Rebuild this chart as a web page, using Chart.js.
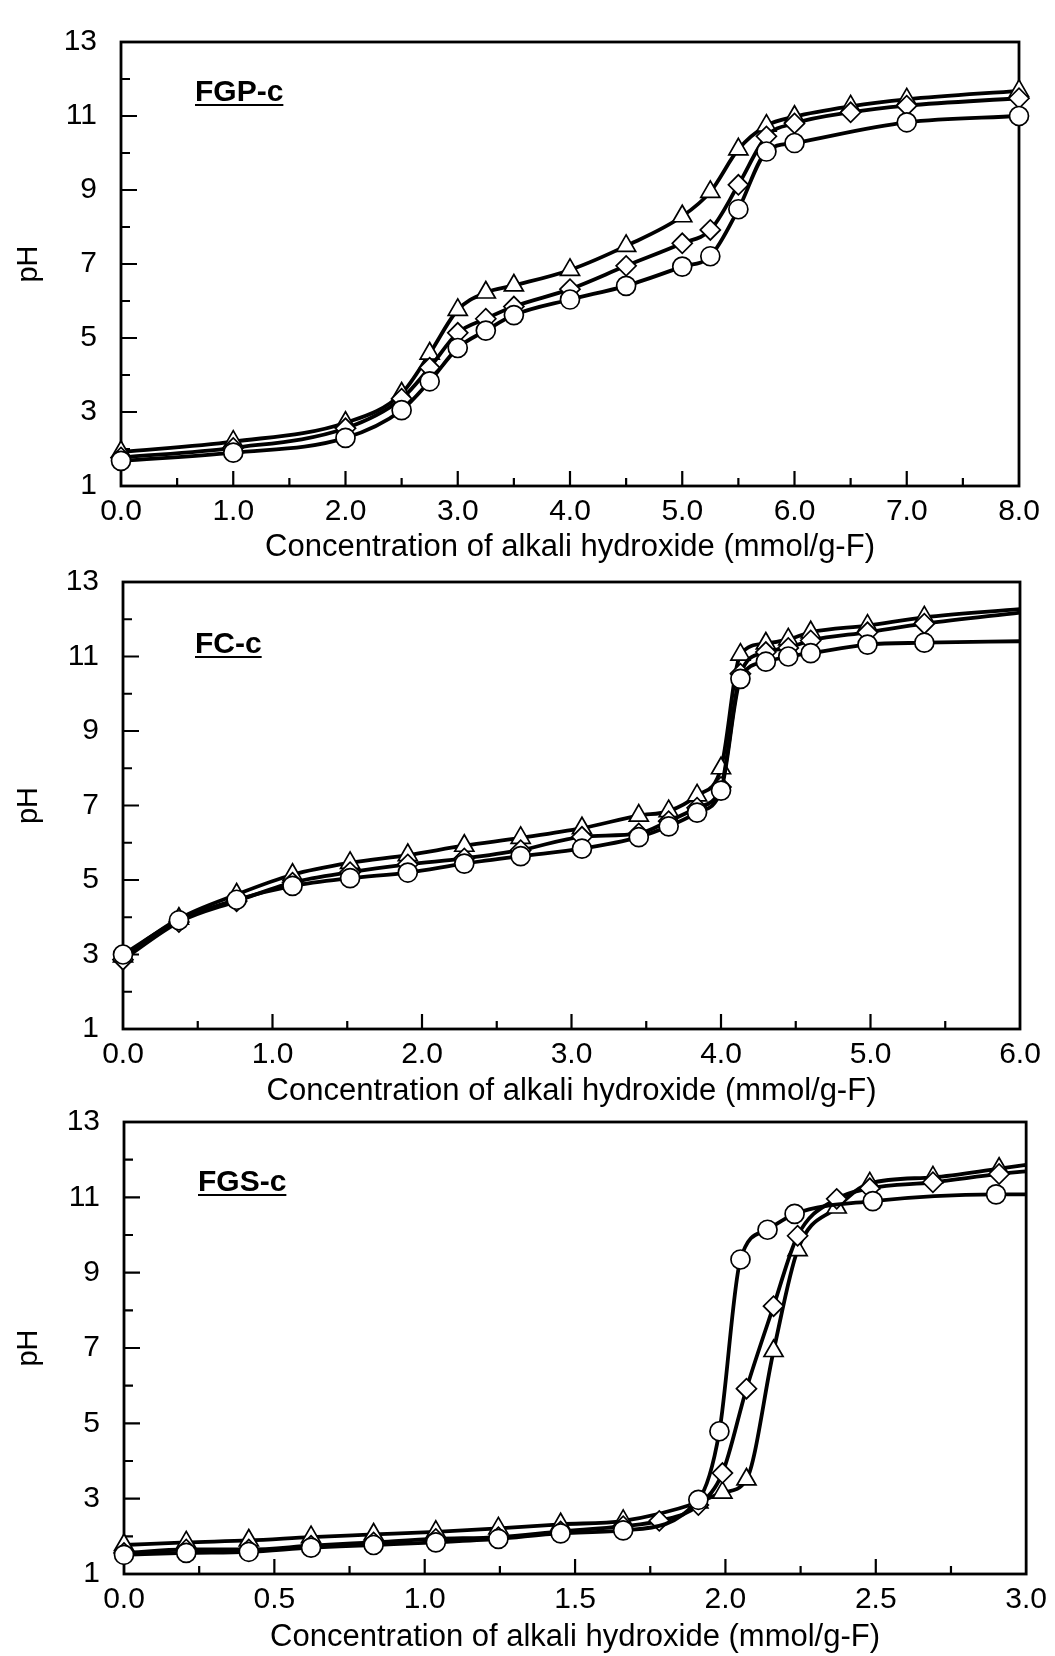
<!DOCTYPE html>
<html lang="en">

<head>
    <meta charset="UTF-8">
    <script src="https://cdn.jsdelivr.net/npm/chart.js"></script>
    <title>pH titration curves</title>
    <style>
        body {
            margin: 0;
            background: #fff;
            width: 1055px;
            height: 1656px;
            position: relative;
            overflow: hidden;
            font-family: "Liberation Sans", Arial, sans-serif;
        }

        canvas {
            position: absolute;
            left: 0;
        }

        .tag {
            position: absolute;
            font-weight: bold;
            font-size: 30px;
            line-height: 30px;
            text-decoration: underline;
            text-decoration-thickness: 2px;
            text-underline-offset: 3px;
        }
    </style>
</head>

<body>
    <canvas id="fgpChart" width="1055" height="576" style="top:0px"></canvas>
    <canvas id="fcChart" width="1055" height="580" style="top:540px"></canvas>
    <canvas id="fgsChart" width="1055" height="586" style="top:1080px"></canvas>
    <div class="tag" style="left:195px; top:76px">FGP-c</div>
    <div class="tag" style="left:195px; top:628px">FC-c</div>
    <div class="tag" style="left:198px; top:1166px">FGS-c</div>
    <script>
        // FGP-c
        const fgpX = [0, 1, 2, 2.5, 2.75, 3, 3.25, 3.5, 4, 4.5, 5, 5.25, 5.5, 5.75, 6, 6.5, 7, 8];
        const fgpCircleX = [0, 1, 2, 2.5, 2.75, 3, 3.25, 3.5, 4, 4.5, 5, 5.25, 5.5, 5.75, 6, 7, 8];
        const fgpCircle = [1.68, 1.9, 2.3, 3.05, 3.83, 4.73, 5.2, 5.62, 6.04, 6.41, 6.93, 7.21, 8.48, 10.04, 10.27, 10.83, 11.0];
        const fgpDiamond = [1.77, 2.03, 2.56, 3.36, 4.2, 5.14, 5.52, 5.85, 6.32, 6.95, 7.56, 7.92, 9.14, 10.45, 10.8, 11.1, 11.28, 11.48];
        const fgpTriangle = [1.92, 2.2, 2.71, 3.5, 4.58, 5.76, 6.23, 6.42, 6.84, 7.49, 8.29, 8.95, 10.1, 10.74, 10.98, 11.26, 11.45, 11.68];

        // FC-c
        const fcX = [0, 0.374, 0.76, 1.134, 1.519, 1.905, 2.283, 2.66, 3.07, 3.45, 3.65, 3.84, 4.0, 4.13, 4.3, 4.45, 4.6, 4.98, 5.36, 6.0];
        const fcCircle = [3.0, 3.92, 4.47, 4.84, 5.05, 5.2, 5.44, 5.64, 5.84, 6.15, 6.44, 6.81, 7.4, 10.4, 10.86, 11.0, 11.09, 11.32, 11.37, 11.41];
        const fcDiamond = [2.86, 3.87, 4.43, 4.93, 5.21, 5.42, 5.58, 5.8, 6.16, 6.25, 6.58, 6.94, 7.5, 10.54, 11.12, 11.23, 11.43, 11.65, 11.88, 12.18];
        const fcTriangle = [2.95, 3.96, 4.61, 5.14, 5.46, 5.67, 5.92, 6.13, 6.39, 6.73, 6.85, 7.27, 8.0, 11.05, 11.35, 11.46, 11.65, 11.83, 12.05, 12.27];

        // FGS-c
        const fgsCircleX = [0, 0.207, 0.415, 0.622, 0.83, 1.037, 1.245, 1.452, 1.66, 1.91, 1.98, 2.05, 2.14, 2.23, 2.49, 2.9, 3.0];
        const fgsCircle = [1.51, 1.56, 1.59, 1.7, 1.77, 1.84, 1.93, 2.08, 2.16, 2.97, 4.79, 9.35, 10.14, 10.56, 10.9, 11.08, 11.08];
        const fgsDiamondX = [0, 0.207, 0.415, 0.622, 0.83, 1.037, 1.245, 1.452, 1.66, 1.78, 1.91, 1.99, 2.07, 2.16, 2.24, 2.37, 2.48, 2.69, 2.91, 3.0];
        const fgsDiamond = [1.56, 1.65, 1.65, 1.75, 1.84, 1.93, 1.98, 2.13, 2.27, 2.41, 2.83, 3.68, 5.92, 8.11, 9.98, 10.96, 11.24, 11.4, 11.62, 11.69];
        const fgsTriangleX = [0, 0.207, 0.415, 0.622, 0.83, 1.037, 1.245, 1.452, 1.66, 1.91, 1.99, 2.07, 2.16, 2.24, 2.37, 2.48, 2.69, 2.91, 3.0];
        const fgsTriangle = [1.77, 1.84, 1.89, 1.98, 2.05, 2.12, 2.21, 2.32, 2.41, 2.9, 3.16, 3.51, 6.92, 9.6, 10.73, 11.37, 11.53, 11.76, 11.86];

        const yTicks = [1, 3, 5, 7, 9, 11, 13];
        const xTitle = 'Concentration of alkali hydroxide (mmol/g-F)';
        const family = '"Liberation Sans", Arial, sans-serif';

        // box round the plot + inward ticks
        const framePlugin = {
            id: 'frame',
            beforeDatasetsDraw(chart, args, opts) {
                const ctx = chart.ctx, a = chart.chartArea;
                const xs = chart.scales.x, ys = chart.scales.y;
                ctx.save();
                ctx.strokeStyle = '#000';
                ctx.lineWidth = 2.8;
                ctx.strokeRect(a.left, a.top, a.right - a.left, a.bottom - a.top);
                ctx.lineWidth = 2.2;
                ctx.beginPath();
                for (let v = ys.min; v <= ys.max; v++) {
                    const y = ys.getPixelForValue(v);
                    const len = (v - ys.min) % 2 === 0 ? 16 : 9;
                    ctx.moveTo(a.left, y);
                    ctx.lineTo(a.left + len, y);
                }
                const steps = Math.round((xs.max - xs.min) / opts.minor);
                for (let i = 1; i < steps; i++) {
                    const x = xs.getPixelForValue(xs.min + i * opts.minor);
                    const len = i % 2 === 0 ? 15 : 8;
                    ctx.moveTo(x, a.bottom);
                    ctx.lineTo(x, a.bottom - len);
                }
                ctx.stroke();
                ctx.restore();
            }
        };

        function series(xs, ys, style, radius, lastMarker) {
            return {
                data: xs.map((x, i) => ({ x: x, y: ys[i] })),
                borderColor: '#000',
                borderWidth: 3.8,
                backgroundColor: '#fff',
                pointStyle: style,
                pointRadius: xs.map((x, i) => (i === xs.length - 1 && !lastMarker) ? 0 : radius),
                pointBorderWidth: 1.7,
                pointBorderColor: '#000',
                pointBackgroundColor: '#fff',
                cubicInterpolationMode: 'monotone',
                clip: false
            };
        }

        function makePanel(id, p, datasets) {
            return new Chart(document.getElementById(id), {
                type: 'line',
                data: { datasets: datasets },
                plugins: [framePlugin],
                options: {
                    responsive: false,
                    animation: false,
                    events: [],
                    layout: { padding: { left: 0, right: p.padRight, top: p.padTop, bottom: 0 } },
                    plugins: {
                        legend: { display: false },
                        tooltip: { enabled: false },
                        frame: { minor: p.minor }
                    },
                    scales: {
                        x: {
                            type: 'linear',
                            min: 0,
                            max: p.xMax,
                            afterFit: s => { s.height = p.xH; },
                            grid: { display: false, drawTicks: false },
                            border: { display: false },
                            ticks: {
                                stepSize: p.xStep,
                                autoSkip: false,
                                maxRotation: 0,
                                padding: 8,
                                color: '#000',
                                font: { size: 30, family: family },
                                callback: v => v.toFixed(1)
                            },
                            title: {
                                display: true,
                                text: xTitle,
                                color: '#000',
                                font: { size: 31, family: family },
                                padding: { top: 0, bottom: 10 }
                            }
                        },
                        y: {
                            min: 1,
                            max: 13,
                            afterFit: s => { s.width = p.left; },
                            afterBuildTicks: s => { s.ticks = yTicks.map(v => ({ value: v })); },
                            grid: { display: false, drawTicks: false },
                            border: { display: false },
                            ticks: {
                                padding: 24,
                                color: '#000',
                                font: { size: 30, family: family }
                            },
                            title: {
                                display: true,
                                text: 'pH',
                                color: '#000',
                                font: { size: 29, family: family },
                                padding: { top: 12, bottom: 0 }
                            }
                        }
                    }
                }
            });
        }

        makePanel('fgpChart', { left: 121, padRight: 36, padTop: 31, xH: 90, xMax: 8, xStep: 1, minor: 0.5 }, [
            series(fgpCircleX, fgpCircle, 'circle', 9.5, true),
            series(fgpX, fgpDiamond, 'rectRot', 10, true),
            series(fgpX, fgpTriangle, 'triangle', 11, true)
        ]);

        makePanel('fcChart', { left: 123, padRight: 35, padTop: 39, xH: 91, xMax: 6, xStep: 1, minor: 0.5 }, [
            series(fcX, fcCircle, 'circle', 9.5, false),
            series(fcX, fcDiamond, 'rectRot', 10, false),
            series(fcX, fcTriangle, 'triangle', 11, false)
        ]);

        makePanel('fgsChart', { left: 124, padRight: 28, padTop: 41, xH: 92, xMax: 3, xStep: 0.5, minor: 0.25 }, [
            series(fgsCircleX, fgsCircle, 'circle', 9.5, false),
            series(fgsDiamondX, fgsDiamond, 'rectRot', 10, false),
            series(fgsTriangleX, fgsTriangle, 'triangle', 11, false)
        ]);
    </script>
</body>

</html>
